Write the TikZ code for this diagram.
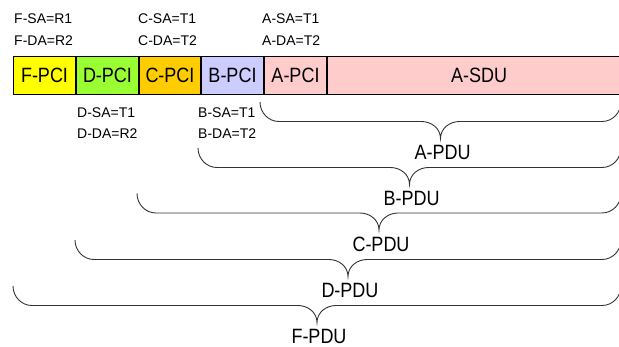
\documentclass[tikz,border=0pt]{standalone}
\usepackage{graphicx}
\usepackage{fontspec}
\setmainfont{Liberation Sans}
\definecolor{cF}{HTML}{FFFF00}
\definecolor{cD}{HTML}{99FF33}
\definecolor{cC}{HTML}{FFCC00}
\definecolor{cB}{HTML}{CCCCFF}
\definecolor{cA}{HTML}{FFCCCC}
\definecolor{braceline}{HTML}{333333}
\newcommand{\talltext}[1]{\scalebox{1}[1.15]{#1}}
\newcommand{\pdubrace}[4]{%
  \pgfmathsetmacro\bxl{#1}%
  \pgfmathsetmacro\bxr{621}%
  \pgfmathsetmacro\bxm{(#1+621)/2}%
  \pgfmathsetmacro\byt{#2}%
  \pgfmathsetmacro\byl{#2+19.5}%
  \pgfmathsetmacro\byp{#2+36.5}%
  \draw[bracestyle] (\bxl,\byt) to[out=-90,in=180] (\bxl+19,\byl) -- (\bxm-19,\byl)
     to[out=0,in=90] (\bxm,\byp) to[out=90,in=180] (\bxm+19,\byl) -- (\bxr-19,\byl)
     to[out=0,in=-90] (\bxr,\byt);
  \node[pdu] (#3) at (\bxm+2,\byp+14) {\talltext{#4}};
}
\begin{document}
\begin{tikzpicture}[x=1pt,y=-1pt,
  pci/.style={draw=black, line width=1pt, minimum height=38pt, inner sep=0pt,
    font=\fontsize{18}{18}\selectfont, anchor=north west},
  lab/.style={font=\fontsize{14}{14}\selectfont, inner sep=0pt, anchor=west},
  bracestyle/.style={draw=braceline, line width=0.9pt},
  pdu/.style={font=\fontsize{18}{18}\selectfont, inner sep=0pt}]
\useasboundingbox (0,0) rectangle (619,347);
\clip (0,0) rectangle (619,347);
\fill[white] (0,0) rectangle (619,347);
% boxes
\node[pci, fill=cF, minimum width=62pt] (fpci) at (13,56) {\talltext{F-PCI}};
\node[pci, fill=cD, minimum width=62pt] (dpci) at (fpci.north east) {\talltext{D-PCI}};
\node[pci, fill=cC, minimum width=61pt] (cpci) at (dpci.north east) {\talltext{C-PCI}};
\node[pci, fill=cB, minimum width=62pt] (bpci) at (cpci.north east) {\talltext{B-PCI}};
\node[pci, fill=cA, minimum width=62pt] (apci) at (bpci.north east) {\talltext{A-PCI}};
\node[pci, fill=cA, minimum width=303pt] (asdu) at (apci.north east) {\talltext{A-SDU}};
% address labels
\node[lab] (fsa) at (14,19) {F-SA=R1};
\node[lab] (fda) at (14,40.5) {F-DA=R2};
\node[lab] (csa) at (138,19) {C-SA=T1};
\node[lab] (cda) at (138,40.5) {C-DA=T2};
\node[lab] (asa) at (262,19) {A-SA=T1};
\node[lab] (ada) at (262,40.5) {A-DA=T2};
\node[lab] (dsa) at (77,112.5) {D-SA=T1};
\node[lab] (dda) at (77,134) {D-DA=R2};
\node[lab] (bsa) at (198,112.5) {B-SA=T1};
\node[lab] (bda) at (198,134) {B-DA=T2};
% braces
\pdubrace{260}{102}{apdu}{A-PDU}
\pdubrace{198}{148}{bpdu}{B-PDU}
\pdubrace{137}{193.5}{cpdu}{C-PDU}
\pdubrace{75}{240}{dpdu}{D-PDU}
\pdubrace{13}{286}{fpdu}{F-PDU}
\end{tikzpicture}
\end{document}
